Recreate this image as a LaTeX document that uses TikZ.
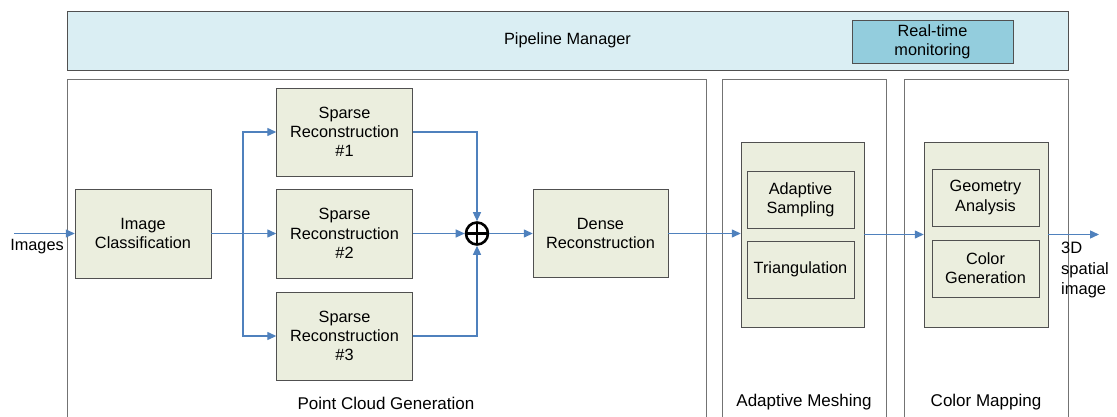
\documentclass[tikz,border=0pt]{standalone}
\usepackage{fontspec}
\setmainfont{Liberation Sans}
\usetikzlibrary{arrows.meta}
\definecolor{boxfill}{HTML}{EBEEDE}
\definecolor{pmfill}{HTML}{DAEEF3}
\definecolor{rtfill}{HTML}{93CDDD}
\definecolor{flowblue}{HTML}{4F81BD}
\definecolor{edgegray}{HTML}{505050}

\begin{document}
\begin{tikzpicture}[x=1pt,y=-1pt,
  font=\fontsize{16.3}{19.3}\selectfont,
  stagebox/.style={draw=edgegray, fill=boxfill, align=center, inner sep=0pt},
  panel/.style={draw=black!55, line width=0.8pt},
  paneltext/.style={font=\fontsize{17}{20}\selectfont},
  flow/.style={draw=flowblue, line width=1.3pt},
  flowarrow/.style={flow, -{Triangle[length=9pt,width=8pt]}}]
\useasboundingbox (0,0) rectangle (1117,417);

\node[draw=edgegray, fill=pmfill, minimum width=1001pt, minimum height=59pt] (pm) at (567.5,40.5) {Pipeline Manager};
\node[draw=edgegray, fill=rtfill, minimum width=161pt, minimum height=43pt, align=center, inner sep=0pt] (rt) at (932.5,41.5) {Real-time\\monitoring};

\coordinate (pcgA) at (67,417);
\coordinate (pcgB) at (706,79);
\coordinate (amA) at (722,417);
\coordinate (amB) at (886,79);
\coordinate (cmA) at (904,417);
\coordinate (cmB) at (1068,79);

\draw[panel] (pcgA) |- (pcgB) -- (pcgB |- pcgA);
\draw[panel] (amA) |- (amB) -- (amB |- amA);
\draw[panel] (cmA) |- (cmB) -- (cmB |- cmA);

\node[paneltext] (pcglabel) at (386,403) {Point Cloud Generation};
\node[paneltext] (amlabel) at (804,402) {Adaptive Meshing};
\node[paneltext] (cmlabel) at (986,402) {Color Mapping};

\node[stagebox, minimum width=136pt, minimum height=89pt] (cls) at (143,233.5) {Image\\Classification};
\node[stagebox, minimum width=136pt, minimum height=88pt] (sp1) at (344.5,132) {Sparse\\Reconstruction\\\#1};
\node[stagebox, minimum width=136pt, minimum height=89pt] (sp2) at (344.5,233.5) {Sparse\\Reconstruction\\\#2};
\node[stagebox, minimum width=136pt, minimum height=88pt] (sp3) at (344.5,336) {Sparse\\Reconstruction\\\#3};
\node[circle, draw, line width=2.6pt, minimum size=22pt, inner sep=0pt,
  path picture={\draw[line width=2.6pt] (path picture bounding box.north) -- (path picture bounding box.south)
  (path picture bounding box.west) -- (path picture bounding box.east);}] (sum) at (477,233.5) {};
\node[stagebox, minimum width=135pt, minimum height=88pt] (dense) at (600.5,233.5) {Dense\\Reconstruction};

\node[stagebox, minimum width=123pt, minimum height=185pt] (mesh) at (802.5,234.5) {};
\node[stagebox, minimum width=107pt, minimum height=57pt] (samp) at (800.5,199.5) {Adaptive\\Sampling};
\node[stagebox, minimum width=107pt, minimum height=57pt] (tri) at (800.5,269.5) {Triangulation};

\node[stagebox, minimum width=124pt, minimum height=185pt] (color) at (986,234.5) {};
\node[stagebox, minimum width=107pt, minimum height=57pt] (geo) at (985.5,197.5) {Geometry\\Analysis};
\node[stagebox, minimum width=107pt, minimum height=57pt] (cgen) at (985.5,268.5) {Color\\Generation};

\coordinate (in) at (14,233.5);
\coordinate (split) at (243,233.5);
\coordinate (out) at (1099,234.5);
\node (images) at (37,247) {Images};
\node[anchor=north west, align=left, inner sep=0pt, font=\fontsize{16.5}{20.5}\selectfont] (result) at (1061,242) {3D\\spatial\\image};

\draw[flowarrow] (in) -- (cls.west);
\draw[flow] (cls.east) -- (split);
\draw[flowarrow] (split) |- (sp1.west);
\draw[flowarrow] (split) -- (sp2.west);
\draw[flowarrow] (split) |- (sp3.west);
\draw[flowarrow] (sp1.east) -| (sum.north);
\draw[flowarrow] (sp2.east) -- (sum.west);
\draw[flowarrow] (sp3.east) -| (sum.south);
\draw[flowarrow] (sum.east) -- (dense.west);
\draw[flowarrow] (dense.east) -- (dense.east -| mesh.west);
\draw[flowarrow] (mesh.east) -- (color.west);
\draw[flowarrow] (color.east) -- (out);

\end{tikzpicture}
\end{document}
